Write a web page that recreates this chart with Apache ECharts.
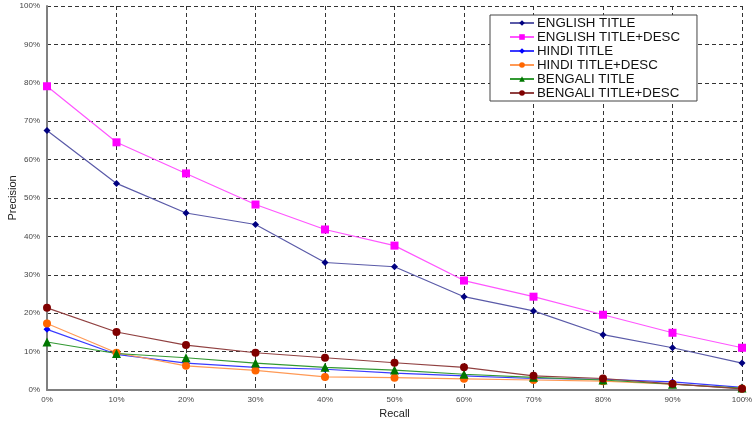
<!DOCTYPE html>
<html>
<head>
<meta charset="utf-8">
<script src="https://cdn.jsdelivr.net/npm/echarts@6/dist/echarts.min.js"></script>
<style>html,body{margin:0;padding:0;background:#fff}#c{width:752px;height:421px}</style>
</head>
<body>
<div id="c"></div>
<script>
var categories = ['0%','10%','20%','30%','40%','50%','60%','70%','80%','90%','100%'];
var yTicks = [0,10,20,30,40,50,60,70,80,90,100];
var englishTitle = [67.6,53.8,46.1,43.1,33.2,32.1,24.3,20.6,14.4,11.0,7.0];
var englishTitleDesc = [79.1,64.5,56.4,48.3,41.8,37.6,28.5,24.3,19.6,14.9,11.0];
var hindiTitle = [15.8,9.3,7.0,5.9,5.4,4.4,3.7,3.0,2.8,2.1,0.7];
var hindiTitleDesc = [17.3,9.7,6.3,5.1,3.4,3.2,2.9,2.6,2.3,1.5,0.4];
var bengaliTitle = [12.5,9.5,8.4,7.0,5.9,5.2,4.1,3.3,2.6,1.5,0.5];
var bengaliTitleDesc = [21.4,15.1,11.7,9.7,8.4,7.1,5.9,3.7,3.0,1.6,0.3];

var seriesDefs = [
  {name:'ENGLISH TITLE', data:englishTitle, color:'#000080', line:'#5a5aa8', symbol:'diamond', size:7},
  {name:'ENGLISH TITLE+DESC', data:englishTitleDesc, color:'#ff00ff', line:'#ff55ff', symbol:'rect', size:8},
  {name:'HINDI TITLE', data:hindiTitle, color:'#0000ff', line:'#3a3aff', symbol:'diamond', size:7},
  {name:'HINDI TITLE+DESC', data:hindiTitleDesc, color:'#ff6600', line:'#ff9955', symbol:'circle', size:8},
  {name:'BENGALI TITLE', data:bengaliTitle, color:'#007700', line:'#339933', symbol:'triangle', size:9},
  {name:'BENGALI TITLE+DESC', data:bengaliTitleDesc, color:'#800000', line:'#904040', symbol:'circle', size:8}
];

var chart = echarts.init(document.getElementById('c'), null, {renderer:'canvas'});
var font = 'Liberation Sans, Arial, Helvetica, sans-serif';
chart.setOption({
  animation:false,
  backgroundColor:'#fff',
  grid:{left:47, right:10, top:6, bottom:31, containLabel:false, outerBoundsMode:'none'},
  legend:{
    orient:'vertical', left:490, top:15, width:209,
    backgroundColor:'#fff', borderColor:'#444', borderWidth:1,
    padding:[1,17,1,19], itemGap:0, itemWidth:24, itemHeight:7,
    textStyle:{fontFamily:font, fontSize:13.3, lineHeight:14, color:'#111', padding:[0,0,0,-2]},
    data:seriesDefs.map(function(s){return s.name;})
  },
  xAxis:{
    type:'category', data:categories, boundaryGap:false,
    name:'Recall', nameLocation:'middle', nameGap:18, nameMoveOverlap:false,
    nameTextStyle:{fontFamily:font, fontSize:11, color:'#222'},
    axisLine:{lineStyle:{color:'#808080', width:2}},
    axisTick:{show:false},
    axisLabel:{fontFamily:font, fontSize:8, color:'#444', margin:6},
    splitLine:{show:true, lineStyle:{color:'#333', type:[4,3], width:1}}
  },
  yAxis:{
    type:'value', min:0, max:100, interval:10,
    name:'Precision', nameLocation:'middle', nameGap:29, nameRotate:90, nameMoveOverlap:false,
    nameTextStyle:{fontFamily:font, fontSize:11, color:'#222'},
    axisLine:{show:true, lineStyle:{color:'#808080', width:2}},
    axisTick:{show:false},
    axisLabel:{fontFamily:font, fontSize:8, color:'#444', margin:7, formatter:'{value}%'},
    splitLine:{show:true, lineStyle:{color:'#333', type:[4,3], width:1}}
  },
  series:seriesDefs.map(function(s){
    return {
      name:s.name, type:'line', data:s.data,
      symbol:s.symbol, symbolSize:s.size, showAllSymbol:true,
      itemStyle:{color:s.color},
      lineStyle:{color:s.line, width:1.2},
      emphasis:{disabled:true}
    };
  })
});
</script>
</body>
</html>
